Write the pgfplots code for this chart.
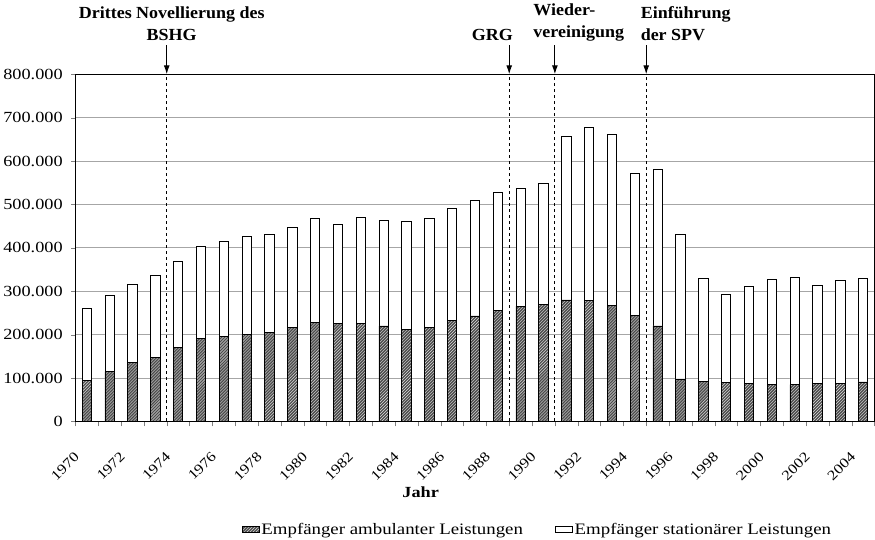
\documentclass[border=0pt]{standalone}
\usepackage{fontspec}
\setmainfont[FakeStretch=1.18]{Liberation Serif}
\newfontfamily\annofont[FakeStretch=1.06]{Liberation Serif}
\usepackage{pgfplots}
\pgfplotsset{compat=1.18}
\usepackage{pgfplotstable}
\usetikzlibrary{patterns,arrows.meta}

% Empfaenger von Hilfe zur Pflege (ambulant / stationaer)
\pgfplotstableread{
jahr amb   stat
1970 95000  166000
1971 115000 175000
1972 135000 181000
1973 148000 188000
1974 170000 199000
1975 191000 213000
1976 196000 219000
1977 201000 226000
1978 205000 226000
1979 217000 229000
1980 229000 238000
1981 225000 230000
1982 226000 245000
1983 220000 244000
1984 212000 250000
1985 217000 252000
1986 232000 260000
1987 243000 266000
1988 256000 271000
1989 266000 271000
1990 270000 279000
1991 280000 376000
1992 278000 399000
1993 268000 394000
1994 244000 328000
1995 220000 360000
1996 98000  332000
1997 92000  238000
1998 89000  203000
1999 87000  225000
2000 85000  243000
2001 85000  248000
2002 88000  226000
2003 88000  237000
2004 91000  239000
}\daten

\begin{document}
\begin{tikzpicture}[font=\fontsize{15.5}{18}\selectfont]
\begin{axis}[
  scale only axis,
  width=801pt, height=348pt,
  ybar stacked, bar width=9.5pt,
  xmin=1969.5, xmax=2004.5,
  ymin=0, ymax=800000,
  scaled y ticks=false,
  ytick={0,100000,200000,300000,400000,500000,600000,700000,800000},
  yticklabels={0,100.000,200.000,300.000,400.000,500.000,600.000,700.000,800.000},
  xtick={1970,1972,1974,1976,1978,1980,1982,1984,1986,1988,1990,1992,1994,1996,1998,2000,2002,2004},
  xticklabels={1970,1972,1974,1976,1978,1980,1982,1984,1986,1988,1990,1992,1994,1996,1998,2000,2002,2004},
  minor xtick={1969.5,1970.5,...,2004.5},
  major x tick style={draw=none},
  minor tick length=5pt,
  tick align=outside,
  xtick pos=bottom, ytick pos=left,
  y tick label style={xshift=-5pt, font=\fontsize{15.5}{18}\selectfont},
  x tick label style={rotate=45, anchor=north east, xshift=-24pt, yshift=-5pt, font=\fontsize{14}{16}\selectfont},
  ymajorgrids,
  grid style={gray!70, line width=0.9pt},
  axis line style={line width=0.9pt},
  xlabel={Jahr},
  xlabel style={at={(ticklabel cs:0.432)}, yshift=3pt, font=\fontsize{15.5}{18}\selectfont\bfseries},
  area legend,
  legend columns=2,
  legend style={draw=none, at={(0.578,-0.28)}, anchor=north, font=\fontsize{16}{19}\selectfont,
    /tikz/every even column/.append style={column sep=30pt}},
  clip=false,
]
\addplot[draw=black, line width=0.8pt, fill=black!70, postaction={pattern=north east lines, pattern color=gray!25}] table[x=jahr, y=amb] {\daten};
\addlegendentry{Empfänger ambulanter Leistungen}
\addplot[draw=black, line width=0.8pt, fill=white] table[x=jahr, y=stat] {\daten};
\addlegendentry{Empfänger stationärer Leistungen}

\pgfplotsinvokeforeach{1973.5,1988.5,1990.5,1994.5}{
  \draw[dashed, line width=0.9pt] (axis cs:#1,0) -- (axis cs:#1,800000);
  \draw[line width=1pt, -{Latex[length=9pt,width=6pt]}] ([yshift=29pt]axis cs:#1,800000) -- (axis cs:#1,800000);
}
\tikzset{anno/.style={font=\annofont\fontsize{17}{22}\selectfont\bfseries}}
\node[anno, anchor=south, align=center, xshift=5pt]
  at ([yshift=30pt]axis cs:1973.5,800000) {Drittes Novellierung des\\BSHG};
\node[anno, anchor=south, xshift=-17pt]
  at ([yshift=30pt]axis cs:1988.5,800000) {GRG};
\node[anno, anchor=south west, align=left, xshift=-25pt]
  at ([yshift=30pt]axis cs:1990.5,800000) {Wieder-\\vereinigung};
\node[anno, anchor=south west, align=left, xshift=-9pt]
  at ([yshift=30pt]axis cs:1994.5,800000) {Einführung\\der SPV};
\end{axis}
\end{tikzpicture}
\end{document}
